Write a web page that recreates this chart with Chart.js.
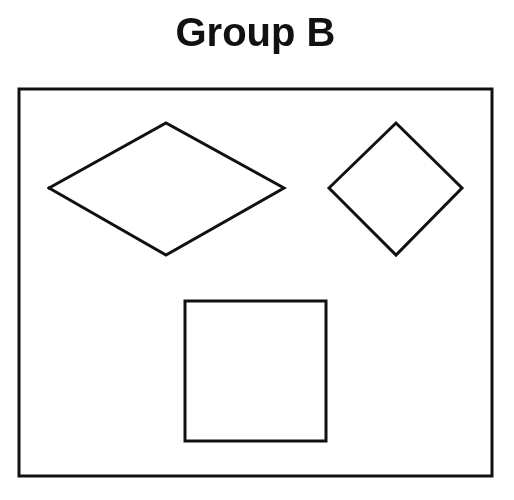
<!DOCTYPE html>
<html>
<head>
<meta charset="utf-8">
<script src="https://cdn.jsdelivr.net/npm/chart.js@4"></script>
<style>
  html, body { margin: 0; padding: 0; background: #ffffff; }
  #wrap { width: 514px; height: 500px; }
</style>
</head>
<body>
<div id="wrap"><canvas id="c"></canvas></div>
<script>
// Panel extent in data units
const panelWidth = 473;
const panelHeight = 387;

// Shape outlines (closed polygons), y measured downward from the panel top
const frame = [[0, 0], [473, 0], [473, 387], [0, 387], [0, 0]];
const wideDiamond = [[30, 99], [147, 34], [265, 99], [147, 166], [30, 99]];
const smallDiamond = [[310, 99], [377, 34], [443, 99], [377, 166], [310, 99]];
const square = [[166, 212], [307, 212], [307, 352], [166, 352], [166, 212]];

const titleText = 'Group B';

const toPoints = arr => arr.map(p => ({ x: p[0], y: p[1] }));

const outline = pts => ({
    data: toPoints(pts),
    showLine: true,
    borderColor: '#111111',
    borderWidth: 3,
    pointRadius: 0,
    tension: 0,
    fill: false,
    clip: false
});

new Chart(document.getElementById('c'), {
    type: 'scatter',
    data: {
        datasets: [outline(frame), outline(wideDiamond), outline(smallDiamond), outline(square)]
    },
    options: {
        responsive: true,
        maintainAspectRatio: false,
        animation: false,
        layout: { padding: { left: 19, right: 22, top: 0, bottom: 24 } },
        plugins: {
            legend: { display: false },
            tooltip: { enabled: false },
            title: {
                display: true,
                text: titleText,
                color: '#111111',
                font: { family: 'Liberation Sans', size: 40, weight: 'bold' },
                padding: { top: 11, bottom: 30 }
            }
        },
        scales: {
            x: { type: 'linear', min: 0, max: panelWidth, display: false },
            y: { type: 'linear', min: 0, max: panelHeight, reverse: true, display: false }
        },
        elements: { line: { borderCapStyle: 'square', borderJoinStyle: 'miter' } }
    }
});
</script>
</body>
</html>
